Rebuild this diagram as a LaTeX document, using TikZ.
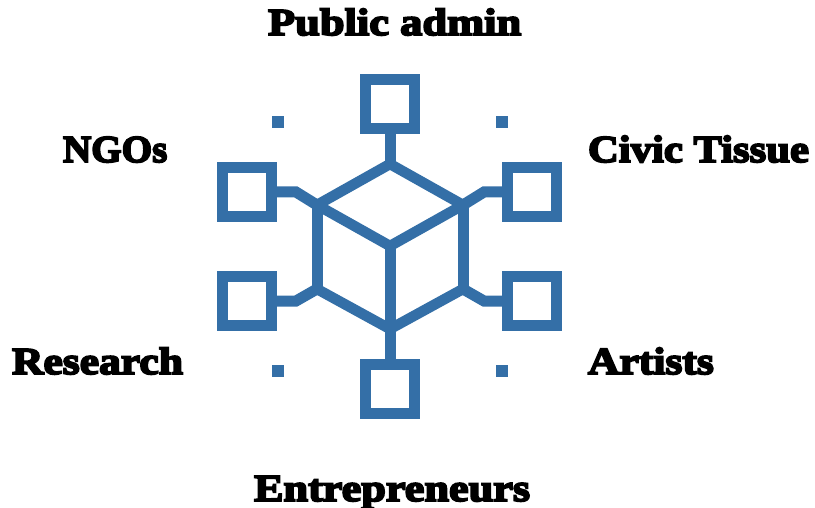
\documentclass[tikz,border=0pt]{standalone}
\usepackage{fontspec}
\newfontfamily\fatface[BoldFont=*,BoldFeatures={FakeBold=5},FakeStretch=1.17]{Liberation Serif Bold}
\definecolor{hubblue}{RGB}{52,111,167}
\tikzset{
  hubsq/.style={draw=hubblue,line width=11pt,minimum size=49pt,inner sep=0pt,outer sep=0pt},
  hubdot/.style={fill=hubblue,minimum size=12pt,inner sep=0pt,outer sep=0pt},
  hubline/.style={draw=hubblue,line width=11pt,line join=miter,line cap=butt},
  hubdiag/.style={draw=hubblue,line width=10.5pt,line join=miter,line cap=butt},
  lab/.style={anchor=base west,inner sep=0pt,outer sep=0pt,text=black,font=\fatface\bfseries\fontsize{38pt}{40pt}\selectfont}
}
\begin{document}
\begin{tikzpicture}[x=1pt,y=-1pt]
\useasboundingbox (0,0) rectangle (815,508);
\node[hubsq] (top) at (390,104) {};
\node[hubsq] (bot) at (390,389) {};
\node[hubsq] (ul) at (247,192) {};
\node[hubsq] (ur) at (532,192) {};
\node[hubsq] (ll) at (247,301) {};
\node[hubsq] (lr) at (532,301) {};
\node[hubdot] (d1) at (278,122.5) {};
\node[hubdot] (d2) at (502,122.5) {};
\node[hubdot] (d3) at (278,371) {};
\node[hubdot] (d4) at (502,371) {};
\coordinate (vt) at (390,164);
\coordinate (vl) at (317,205);
\coordinate (vr) at (463,205);
\coordinate (vc) at (390,246);
\coordinate (wl) at (317,289);
\coordinate (wr) at (463,289);
\coordinate (vb) at (390,329);
\coordinate (kul) at (296,192);
\coordinate (kur) at (484,192);
\coordinate (kll) at (296,301);
\coordinate (klr) at (484,301);
\draw[hubline] (vl) -- (wl);
\draw[hubline] (vr) -- (wr);
\draw[hubline] (vc) -- (vb);
\draw[hubdiag] (vl) -- (vt) -- (vr);
\draw[hubdiag] (vl) -- (vc) -- (vr);
\draw[hubdiag] (wl) -- (vb) -- (wr);
\draw[hubline] (top.south) -- (vt);
\draw[hubline] (bot.north) -- (vb);
\draw[hubline] (ul.east) -- (kul) -- (vl);
\draw[hubline] (ur.west) -- (kur) -- (vr);
\draw[hubline] (ll.east) -- (kll) -- (wl);
\draw[hubline] (lr.west) -- (klr) -- (wr);
\node[lab] (t1) at (268,35) {Public admin};
\node[lab] (t2) at (63,162) {\scalebox{0.88}[1]{NGOs}};
\node[lab] (t3) at (588,162) {\scalebox{0.96}[1]{Civic Tissue}};
\node[lab] (t4) at (12,374) {\scalebox{0.98}[1]{Research}};
\node[lab] (t5) at (588,374) {\scalebox{0.98}[1]{Artists}};
\node[lab] (t6) at (254,501) {\scalebox{0.995}[1]{Entrepreneurs}};
\end{tikzpicture}
\end{document}
